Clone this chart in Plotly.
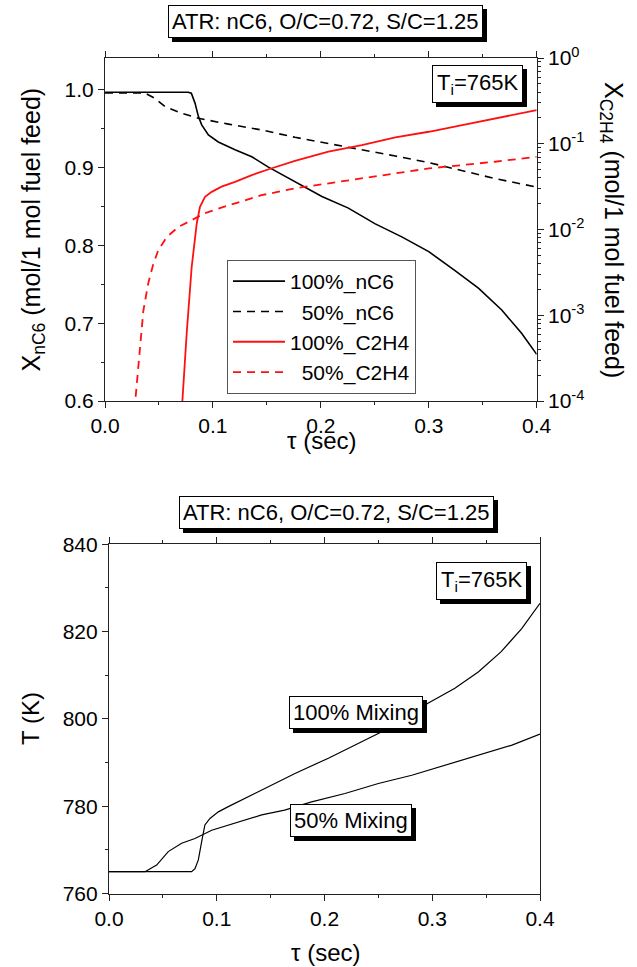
import plotly.graph_objects as go

# ---------------- data ----------------
tau_nc6_100 = [0.0, 0.02, 0.04, 0.06, 0.077, 0.080, 0.0834, 0.0865, 0.0896, 0.0958, 0.105, 0.1205,
               0.136, 0.151, 0.176, 0.201, 0.2255, 0.250, 0.275, 0.300, 0.324, 0.346, 0.3676, 0.386, 0.400]
x_nc6_100 = [0.997, 0.997, 0.997, 0.997, 0.997, 0.9957, 0.983, 0.966, 0.955, 0.942, 0.933, 0.923,
             0.914, 0.901, 0.882, 0.863, 0.848, 0.828, 0.811, 0.792, 0.768, 0.745, 0.717, 0.687, 0.660]

tau_nc6_50 = [0.0, 0.02, 0.037, 0.0463, 0.0556, 0.0711, 0.0865, 0.1143, 0.145, 0.176, 0.207, 0.238,
              0.269, 0.300, 0.3306, 0.3614, 0.400]
x_nc6_50 = [0.996, 0.996, 0.996, 0.989, 0.9785, 0.970, 0.9635, 0.956, 0.9485, 0.939, 0.931, 0.9236,
            0.915, 0.9065, 0.896, 0.886, 0.875]

tau_c2h4_100 = [0.0717, 0.0757, 0.0803, 0.085, 0.088, 0.0927, 0.0989, 0.108, 0.1205, 0.136, 0.151,
                0.176, 0.207, 0.238, 0.269, 0.300, 0.331, 0.361, 0.400]
x_c2h4_100 = [1.0e-4, 6.17e-4, 3.63e-3, 1.175e-2, 1.84e-2, 2.40e-2, 2.75e-2, 3.16e-2, 3.60e-2, 4.31e-2,
              5.01e-2, 6.31e-2, 8.07e-2, 9.64e-2, 0.1186, 0.138, 0.165, 0.198, 0.247]

tau_c2h4_50 = [0.0284, 0.0324, 0.0355, 0.040, 0.0448, 0.0494, 0.0571, 0.068, 0.0834, 0.0927, 0.1143,
               0.145, 0.176, 0.207, 0.238, 0.269, 0.300, 0.3306, 0.3614, 0.400]
x_c2h4_50 = [1.12e-4, 4.47e-4, 1.12e-3, 2.34e-3, 3.98e-3, 5.75e-3, 8.13e-3, 1.07e-2, 1.35e-2, 1.55e-2,
             1.91e-2, 2.51e-2, 3.02e-2, 3.47e-2, 3.94e-2, 4.51e-2, 5.15e-2, 5.62e-2, 6.17e-2, 7.05e-2]

tau_T100 = [0.0, 0.0767, 0.0798, 0.0829, 0.086, 0.089, 0.0937, 0.1015, 0.1107, 0.126, 0.1417, 0.1726,
            0.2036, 0.2345, 0.256, 0.281, 0.296, 0.321, 0.343, 0.364, 0.383, 0.400]
T100 = [765.0, 765.0, 765.7, 767.7, 771.9, 775.7, 777.2, 778.7, 779.9, 781.8, 783.7, 787.5,
        791.0, 794.8, 797.4, 801.3, 803.6, 807.0, 810.8, 815.4, 820.7, 826.5]

tau_T50 = [0.0, 0.0334, 0.0442, 0.055, 0.0674, 0.0798, 0.0953, 0.111, 0.126, 0.1417, 0.163, 0.188,
           0.219, 0.25, 0.281, 0.312, 0.343, 0.374, 0.400]
T50 = [765.0, 765.0, 766.5, 769.6, 771.5, 772.6, 774.5, 775.7, 776.8, 778.0, 779.1, 781.0,
       782.9, 785.2, 787.1, 789.4, 791.7, 794.0, 796.5]

x_ticks = [0.0, 0.1, 0.2, 0.3, 0.4]
x_ticktext = ["0.0", "0.1", "0.2", "0.3", "0.4"]
y_ticks = [0.6, 0.7, 0.8, 0.9, 1.0]
y_ticktext = ["0.6", "0.7", "0.8", "0.9", "1.0"]
log_ticks = [1e-4, 1e-3, 1e-2, 1e-1, 1]
log_ticktext = ["10<sup>-4</sup>", "10<sup>-3</sup>", "10<sup>-2</sup>", "10<sup>-1</sup>", "10<sup>0</sup>"]
T_ticks = [760, 780, 800, 820, 840]

title_text = "ATR: nC6, O/C=0.72, S/C=1.25"
ti_text = "T<sub>i</sub>=765K"

# ---------------- figure ----------------
W, H = 637, 967
FONT = "Liberation Sans, Arial, sans-serif"
AX = "#222222"


def px(x):
    return x / W


def py(y):
    return 1 - y / H


fig = go.Figure()

dash = "8px,6px"
fig.add_trace(go.Scatter(x=tau_nc6_100, y=x_nc6_100, mode="lines", name="100%_nC6",
                         line=dict(color="black", width=1.6), xaxis="x", yaxis="y"))
fig.add_trace(go.Scatter(x=tau_nc6_50, y=x_nc6_50, mode="lines", name="\u00a0\u00a050%_nC6",
                         line=dict(color="black", width=1.6, dash=dash), xaxis="x", yaxis="y"))
fig.add_trace(go.Scatter(x=tau_c2h4_100, y=x_c2h4_100, mode="lines", name="100%_C2H4",
                         line=dict(color="#ff1010", width=1.8), xaxis="x", yaxis="y2"))
fig.add_trace(go.Scatter(x=tau_c2h4_50, y=x_c2h4_50, mode="lines", name="\u00a0\u00a050%_C2H4",
                         line=dict(color="#ff1010", width=1.8, dash=dash), xaxis="x", yaxis="y2"))

fig.add_trace(go.Scatter(x=tau_T100, y=T100, mode="lines", showlegend=False,
                         line=dict(color="black", width=1.2), xaxis="x2", yaxis="y3"))
fig.add_trace(go.Scatter(x=tau_T50, y=T50, mode="lines", showlegend=False,
                         line=dict(color="black", width=1.2), xaxis="x2", yaxis="y3"))

tickfont = dict(family=FONT, size=21, color="black")
common = dict(showgrid=False, zeroline=False, showline=True, linecolor=AX, linewidth=1.2,
              ticks="outside", tickcolor=AX, tickwidth=1.2, ticklen=6, tickfont=tickfont,
              automargin=False)

minor_log = []
for d in [1e-4, 1e-3, 1e-2, 1e-1]:
    for k in range(2, 10):
        minor_log.append(d * k)

fig.update_layout(
    width=W, height=H,
    margin=dict(l=0, r=0, t=0, b=0, autoexpand=False),
    paper_bgcolor="white", plot_bgcolor="white",
    showlegend=True,
    legend=dict(x=px(227), y=py(260), xanchor="left", yanchor="top",
                bgcolor="white", bordercolor="#555555", borderwidth=1,
                font=dict(family=FONT, size=21, color="black"), itemwidth=52,
                tracegroupgap=0),
    xaxis=dict(domain=[px(105), px(536.7)], range=[0, 0.4], anchor="y",
               tickvals=x_ticks, ticktext=x_ticktext, mirror="ticks",
               minor=dict(ticks="outside", ticklen=3, dtick=0.05, tickcolor=AX), **common),
    yaxis=dict(domain=[py(401), py(58)], range=[0.6, 1.041], anchor="x",
               tickvals=y_ticks, ticktext=y_ticktext,
               minor=dict(ticks="outside", ticklen=3, dtick=0.05, tickcolor=AX), **common),
    yaxis2=dict(overlaying="y", side="right", anchor="x", type="log", range=[-4, 0],
                tickvals=log_ticks, ticktext=log_ticktext,
                minor=dict(ticks="outside", ticklen=3, tickvals=minor_log, tickcolor=AX), **common),
    xaxis2=dict(domain=[px(109), px(540)], range=[0, 0.4], anchor="y3",
                tickvals=x_ticks, ticktext=x_ticktext, mirror="ticks",
                minor=dict(ticks="outside", ticklen=3, dtick=0.05, tickcolor=AX), **common),
    yaxis3=dict(domain=[py(893.5), py(544.3)], range=[760, 840], anchor="x2",
                tickvals=T_ticks, mirror=True,
                minor=dict(ticks="outside", ticklen=3, dtick=10, tickcolor=AX), **common),
)

annots = []


def boxed(text, x, y, size=22, pad=3):
    base = dict(text=text, x=px(x), y=py(y), xref="paper", yref="paper", showarrow=False,
                xanchor="center", yanchor="middle", borderwidth=1, borderpad=pad,
                font=dict(family=FONT, size=size, color="black"))
    shadow = dict(base, bgcolor="black", bordercolor="black", xshift=4, yshift=-4,
                  font=dict(family=FONT, size=size, color="black"))
    main = dict(base, bgcolor="white", bordercolor="black")
    annots.append(shadow)
    annots.append(main)


boxed(title_text, 325, 21.5)
boxed(ti_text, 477.5, 83.5, pad=4)
boxed(title_text, 336, 512)
boxed(ti_text, 481.3, 581, pad=4)
boxed("100% Mixing", 356, 712.3)
boxed("50% Mixing", 350.5, 820)

tfont = dict(family=FONT, size=24, color="black")
annots.append(dict(text="X<sub>nC6</sub> (mol/1 mol fuel feed)", x=px(33), y=py(229.5),
                   xref="paper", yref="paper", showarrow=False, textangle=-90,
                   xanchor="center", yanchor="middle", font=dict(tfont, size=25)))
annots.append(dict(text="X<sub>C2H4</sub> (mol/1 mol fuel feed)", x=px(612), y=py(230),
                   xref="paper", yref="paper", showarrow=False, textangle=90,
                   xanchor="center", yanchor="middle", font=dict(tfont, size=25)))
annots.append(dict(text="\u03c4 (sec)", x=px(321), y=py(441), xref="paper", yref="paper",
                   showarrow=False, xanchor="center", yanchor="middle", font=tfont))
annots.append(dict(text="T (K)", x=px(30), y=py(719), xref="paper", yref="paper",
                   showarrow=False, textangle=-90, xanchor="center", yanchor="middle", font=tfont))
annots.append(dict(text="\u03c4 (sec)", x=px(325), y=py(952), xref="paper", yref="paper",
                   showarrow=False, xanchor="center", yanchor="middle", font=tfont))

fig.update_layout(annotations=annots)

fig.write_html("out.html")
